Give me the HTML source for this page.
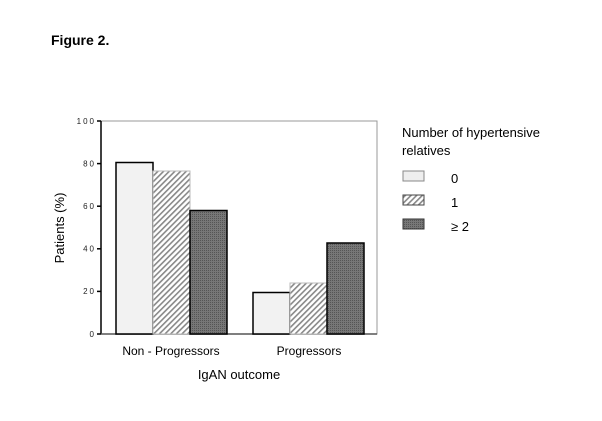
<!DOCTYPE html>
<html><head><style>body{margin:0;background:#fff}</style></head><body>
<svg width="602" height="416" xmlns="http://www.w3.org/2000/svg" font-family="Liberation Sans, sans-serif">
<defs>
<pattern id="h" width="4" height="4" patternUnits="userSpaceOnUse" patternTransform="rotate(45)">
<rect width="4" height="4" fill="#fff"/><rect width="1.6" height="4" fill="#888"/></pattern>
<pattern id="d" width="2" height="2" patternUnits="userSpaceOnUse">
<rect width="2" height="2" fill="#777"/><rect width="1" height="1" fill="#555"/></pattern>
</defs>
<text x="51" y="45" font-size="14" font-weight="bold">Figure 2.</text>
<rect x="101" y="121" width="276" height="213" fill="none" stroke="#999" stroke-width="1"/>
<line x1="101" y1="121" x2="101" y2="334" stroke="#000" stroke-width="1.5"/>
<line x1="101" y1="334" x2="377" y2="334" stroke="#555" stroke-width="1.5"/>
<g stroke="#000" stroke-width="1.5">
<line x1="97" y1="121" x2="101" y2="121"/><line x1="97" y1="163.6" x2="101" y2="163.6"/>
<line x1="97" y1="206.2" x2="101" y2="206.2"/><line x1="97" y1="248.8" x2="101" y2="248.8"/>
<line x1="97" y1="291.4" x2="101" y2="291.4"/><line x1="97" y1="334" x2="101" y2="334"/></g>
<g font-size="8" text-anchor="end" letter-spacing="2" fill="#222">
<text x="96" y="124">100</text><text x="96" y="166.5">80</text><text x="96" y="209">60</text>
<text x="96" y="251.5">40</text><text x="96" y="294">20</text><text x="96" y="337">0</text></g>
<g stroke="#000" stroke-width="1.5">
<rect x="116" y="162.5" width="37" height="171.5" fill="#f2f2f2"/>
<rect x="153" y="171" width="37" height="163" fill="url(#h)" stroke="#bbb" stroke-width="1"/>
<rect x="190" y="210.5" width="37" height="123.5" fill="url(#d)"/>
<rect x="253" y="292.5" width="37" height="41.5" fill="#f2f2f2"/>
<rect x="290" y="283" width="37" height="51" fill="url(#h)" stroke="#bbb" stroke-width="1"/>
<rect x="327" y="243" width="37" height="91" fill="url(#d)"/>
</g>
<text x="171" y="355" font-size="12" text-anchor="middle">Non - Progressors</text>
<text x="309" y="355" font-size="12" text-anchor="middle">Progressors</text>
<text x="239" y="379" font-size="13" text-anchor="middle">IgAN outcome</text>
<text transform="translate(64,228) rotate(-90)" font-size="13" text-anchor="middle">Patients (%)</text>
<text x="402" y="137" font-size="13">Number of hypertensive</text>
<text x="402" y="155" font-size="13">relatives</text>
<rect x="403" y="171" width="21" height="10" fill="#eee" stroke="#888"/>
<rect x="403" y="195" width="21" height="10" fill="url(#h)" stroke="#444"/>
<rect x="403" y="219" width="21" height="10" fill="url(#d)" stroke="#333"/>
<text x="451" y="183" font-size="13">0</text>
<text x="451" y="207" font-size="13">1</text>
<text x="451" y="231" font-size="13">≥ 2</text>
</svg>
</body></html>
